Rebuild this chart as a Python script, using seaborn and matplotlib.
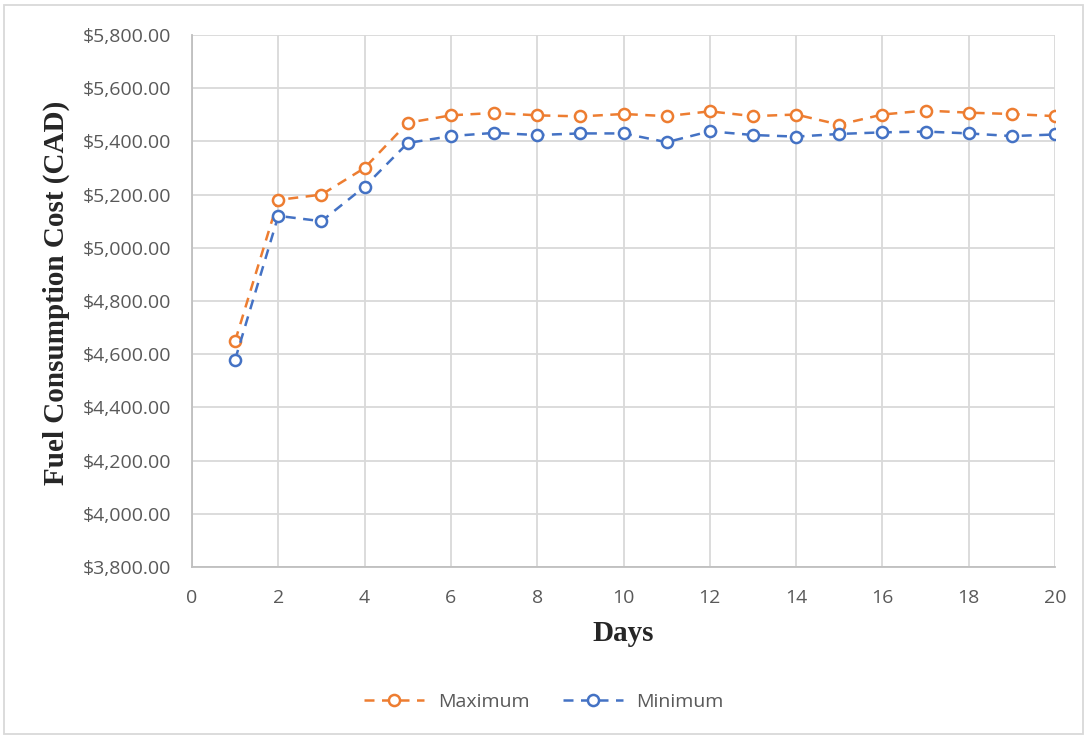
import matplotlib
matplotlib.use("Agg")
import matplotlib.pyplot as plt
import matplotlib.patches as mpatches
from matplotlib.ticker import FuncFormatter, MultipleLocator
import pandas as pd
import seaborn as sns

# dados
dias = list(range(1, 21))
custo_max = [4650, 5180, 5200, 5300, 5470, 5498, 5507, 5498, 5494, 5503,
             5495, 5513, 5495, 5501, 5463, 5501, 5516, 5508, 5503, 5495]
custo_min = [4580, 5120, 5100, 5230, 5394, 5420, 5432, 5424, 5430, 5430,
             5397, 5438, 5424, 5418, 5428, 5434, 5437, 5430, 5420, 5426]
series = ["Maximum", "Minimum"]
cores = ["#ED7D31", "#4472C4"]

df = pd.DataFrame({
    "Day": dias + dias,
    "Cost": custo_max + custo_min,
    "Series": [series[0]] * len(dias) + [series[1]] * len(dias),
})

sns.set_style("white")
plt.rcParams["font.family"] = ["Open Sans", "DejaVu Sans"]

fig = plt.figure(figsize=(10.88, 7.38), dpi=100)
ax = fig.add_axes([192 / 1088, 1 - 567 / 738, (1055 - 192) / 1088, (567 - 35) / 738])

for nome, cor in zip(series, cores):
    sub = df[df["Series"] == nome]
    sns.lineplot(data=sub, x="Day", y="Cost", ax=ax, color=cor, label=nome,
                 linestyle=(0, (4, 3)), linewidth=1.8, marker="o", markersize=8,
                 markerfacecolor="white", markeredgecolor=cor, markeredgewidth=1.8)

ax.set_xlim(0, 20)
ax.set_ylim(3800, 5800)
ax.xaxis.set_major_locator(MultipleLocator(2))
ax.yaxis.set_major_locator(MultipleLocator(200))
ax.yaxis.set_major_formatter(FuncFormatter(lambda v, p: f"${v:,.2f}"))
ax.grid(True, color="#d9d9d9", linewidth=1.3)
ax.set_axisbelow(True)
for s in ["top", "right"]:
    ax.spines[s].set_visible(False)
for s in ["left", "bottom"]:
    ax.spines[s].set_color("#bfbfbf")
    ax.spines[s].set_linewidth(1.3)
ax.tick_params(length=0, labelsize=14, labelcolor="#595959", pad=15)
ax.tick_params(axis="x", pad=16)

ax.set_xlabel("Days", fontsize=21, fontweight="bold", family="Liberation Serif", labelpad=9)
ax.set_ylabel("Fuel Consumption Cost (CAD)", fontsize=21, fontweight="bold",
              family="Liberation Serif", labelpad=8)
ax.yaxis.set_label_coords(-0.141, 0.515)

h, l = ax.get_legend_handles_labels()
ax.legend(h, l, loc="center", bbox_to_anchor=(0.5, 1 - 702 / 738), bbox_transform=fig.transFigure,
          ncol=2, frameon=False, fontsize=14, labelcolor="#595959", handlelength=3.1,
          handletextpad=0.7, columnspacing=1.7)

# borda da area do grafico
fig.patches.append(mpatches.Rectangle((4 / 1088, 4 / 738), 1 - 9 / 1088, 1 - 9 / 738,
                                      transform=fig.transFigure, fill=False,
                                      edgecolor="#d9d9d9", linewidth=1.3))

fig.savefig("out.png", dpi=100)
